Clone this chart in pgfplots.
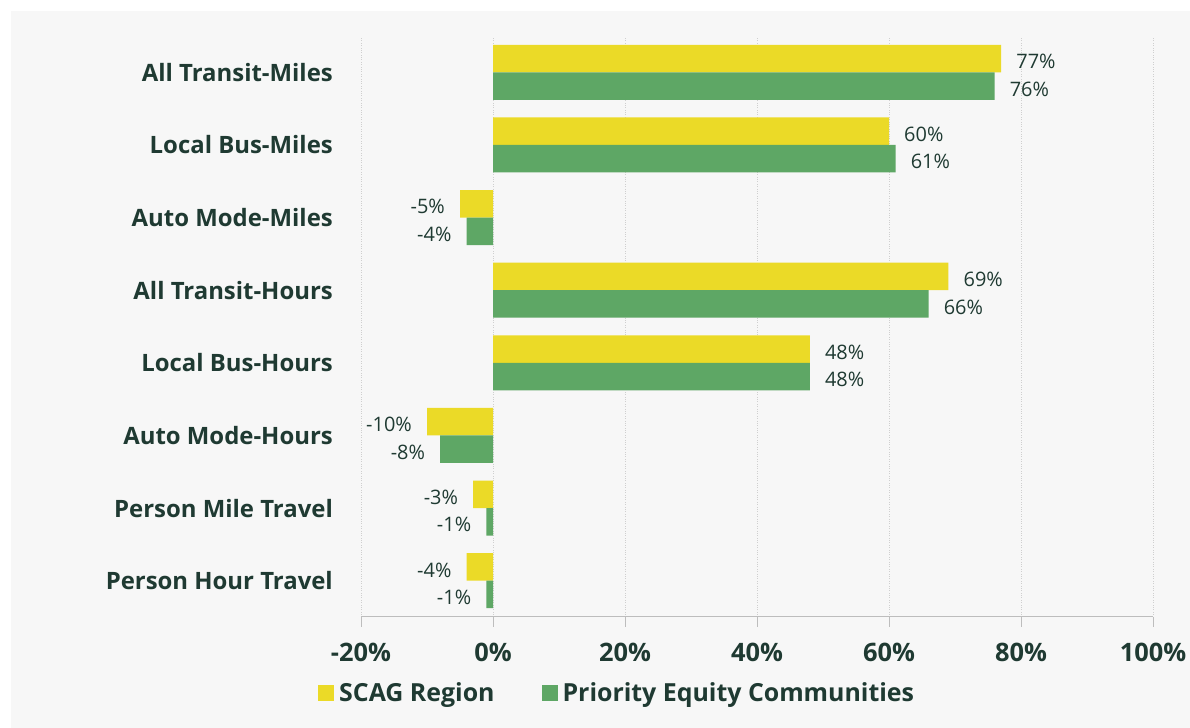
\documentclass[border=0pt]{standalone}
\usepackage{pgfplots}
\pgfplotsset{compat=1.18}
\usepackage{fontspec}
\setmainfont{Open Sans}
\definecolor{bg}{HTML}{F7F7F7}
\definecolor{ylw}{HTML}{EBDA27}
\definecolor{grn}{HTML}{5EA765}
\definecolor{txt}{HTML}{1F3A32}
\definecolor{gridc}{HTML}{CFCFCF}
\definecolor{axc}{HTML}{BDBDBD}
\begin{document}
\begin{tikzpicture}[x=1bp,y=1bp]
\fill[white] (0,0) rectangle (1190,728);
\fill[bg] (11,0) rectangle (1190,717);
\begin{axis}[
  at={(361bp,111bp)}, anchor=south west,
  scale only axis, width=792bp, height=581bp,
  /pgf/number format/assume math mode=true,
  xbar, bar width=27.5bp,
  xmin=-20, xmax=100, xtick={-20,0,...,100},
  ymin=-0.5, ymax=7.5,
  ytick={0,...,7},
  yticklabels={Person Hour Travel,Person Mile Travel,Auto Mode-Hours,Local Bus-Hours,All Transit-Hours,Auto Mode-Miles,Local Bus-Miles,All Transit-Miles},
  axis x line*=bottom,
  y axis line style={draw=none},
  x axis line style={axc, line width=1bp},
  xtick style={axc, line width=1bp},
  ytick style={draw=none},
  tick align=outside, major tick length=10bp,
  xmajorgrids, grid style={gridc, dotted, line width=0.8bp},
  xticklabel={\pgfmathprintnumber{\tick}\%},
  xticklabel style={font=\fontsize{25.5}{30}\selectfont\bfseries, text=txt, inner sep=0pt, yshift=-16bp},
  yticklabel style={font=\fontsize{24}{28}\selectfont\bfseries, text=txt, inner sep=0pt, xshift=-18bp},
  nodes near coords={\pgfmathprintnumber{\pgfplotspointmeta}\%},
  every node near coord/.append style={font=\fontsize{20}{24}\selectfont, text=txt, inner xsep=15bp, inner ysep=0pt, yshift=-3bp},
  legend style={at={(-0.0543,-0.131)}, anchor=west, draw=none, fill=none, inner sep=0pt,
    font=\fontsize{25}{30}\selectfont\bfseries, text=txt, legend columns=2,
    /tikz/every even column/.style={column sep=45bp},
    /tikz/every odd column/.style={column sep=3bp}},
  legend image code/.code={\fill[#1,draw=none] (0bp,-8bp) rectangle (16bp,8bp);},
  legend cell align=left,
]
\addplot[fill=ylw, draw=none, bar shift=13.75bp] coordinates {
  (77,7) (60,6) (-5,5) (69,4) (48,3) (-10,2) (-3,1) (-4,0)};
\addplot[fill=grn, draw=none, bar shift=-13.75bp] coordinates {
  (76,7) (61,6) (-4,5) (66,4) (48,3) (-8,2) (-1,1) (-1,0)};
\legend{SCAG Region, Priority Equity Communities}
\end{axis}
\end{tikzpicture}
\end{document}
